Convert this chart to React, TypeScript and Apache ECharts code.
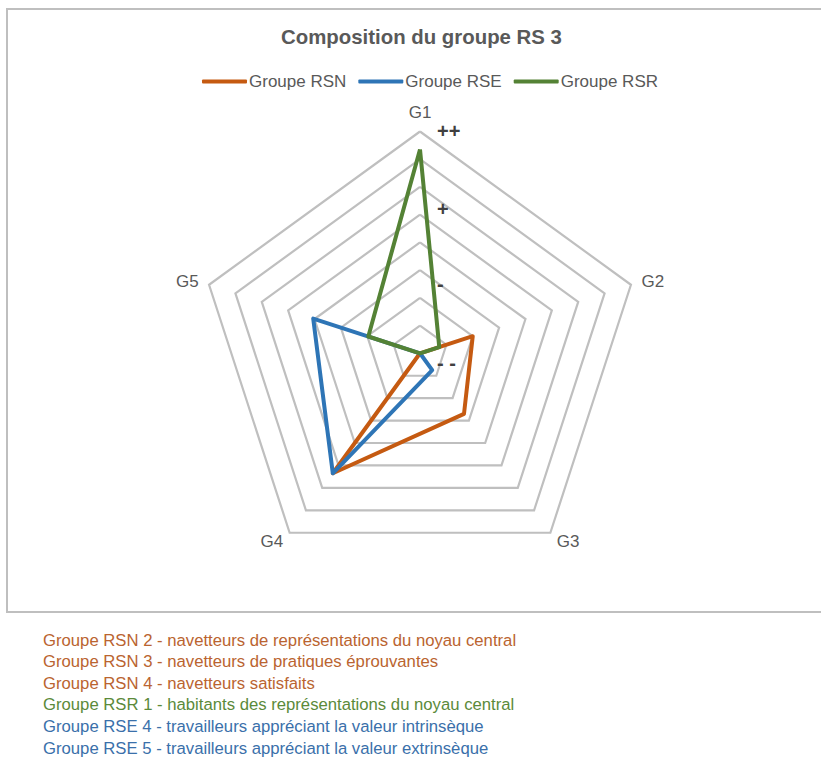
import React, { useEffect, useRef } from "react";
import * as echarts from "echarts";

const indicators = ["G1", "G2", "G3", "G4", "G5"];
const seriesNames = ["Groupe RSN", "Groupe RSE", "Groupe RSR"];
const rsn = [0, 2.0, 2.7, 5.35, 0];
const rse = [0, 0, 0.75, 5.35, 4.05];
const rsr = [7.35, 0.73, 0, 0, 1.96];
const seriesColors = ["#C55A11", "#2E75B6", "#548235"];
const scaleLabels = ["++", "+", "-", "- -"];
const scaleLabelY = [131, 208.5, 283.5, 363];
const notes = [
  "Groupe RSN 2 - navetteurs de représentations du noyau central",
  "Groupe RSN 3 - navetteurs de pratiques éprouvantes",
  "Groupe RSN 4 - navetteurs satisfaits",
  "Groupe RSR 1 - habitants des représentations du noyau central",
  "Groupe RSE 4 - travailleurs appréciant la valeur intrinsèque",
  "Groupe RSE 5 - travailleurs appréciant la valeur extrinsèque",
];
const noteColors = ["#BA6430", "#BA6430", "#BA6430", "#5B8A3A", "#3A70AA", "#3A70AA"];

// ECharts places radar indicators counter-clockwise; reorder to get clockwise G1..G5
const order = [0, 4, 3, 2, 1];
const reorder = (arr: any[]) => order.map((i) => arr[i]);

export default function App() {
  const ref = useRef<HTMLDivElement>(null);
  useEffect(() => {
    document.body.style.margin = "0";
    const chart = echarts.init(ref.current!, null, { renderer: "svg" });
    const font = "'Liberation Sans', Arial, sans-serif";
    const graphics: any[] = [
      {
        type: "rect",
        shape: { x: 7, y: 9, width: 840, height: 603 },
        style: { fill: "#ffffff", stroke: "#BFBFBF", lineWidth: 2 },
        z: -10,
        silent: true,
      },
    ];
    scaleLabels.forEach((t, i) => {
      graphics.push({
        type: "text",
        x: 437,
        y: scaleLabelY[i],
        style: {
          text: t,
          fill: "#404040",
          font: `bold 20px ${font}`,
          textVerticalAlign: "middle",
          verticalAlign: "middle",
        },
        z: 10,
      });
    });
    notes.forEach((t, i) => {
      graphics.push({
        type: "text",
        x: 43,
        y: 640 + i * 21.6,
        style: {
          text: t,
          fill: noteColors[i],
          font: `16.7px ${font}`,
          verticalAlign: "middle",
          textVerticalAlign: "middle",
        },
      });
    });
    const data = [rsn, rse, rsr];
    chart.setOption({
      animation: false,
      title: {
        text: "Composition du groupe RS 3",
        left: 276,
        top: 22,
        textStyle: { fontSize: 20.4, fontWeight: "bold", color: "#595959", fontFamily: font },
      },
      legend: {
        data: seriesNames,
        top: 68,
        left: 197,
        icon: "roundRect",
        itemWidth: 45,
        itemHeight: 4,
        itemGap: 12,
        textStyle: { fontSize: 17, color: "#595959", fontFamily: font, padding: [0, 0, 0, -3] },
      },
      graphic: graphics,
      radar: {
        center: [420, 353.3],
        radius: 221.8,
        shape: "polygon",
        splitNumber: 8,
        startAngle: 90,
        indicator: reorder(indicators).map((n) => ({ name: n, min: 0, max: 8 })),
        axisName: { color: "#595959", fontSize: 17, fontFamily: font },
        nameGap: 11,
        axisLine: { show: false },
        axisTick: { show: false },
        axisLabel: { show: false },
        splitArea: { show: false },
        splitLine: { lineStyle: { color: "#BFBFBF", width: 2.2 } },
      },
      series: [
        {
          type: "radar",
          symbol: "none",
          data: data.map((d, i) => ({
            name: seriesNames[i],
            value: reorder(d),
            lineStyle: { color: seriesColors[i], width: 4 },
            itemStyle: { color: seriesColors[i] },
          })),
        },
      ],
    });
    return () => chart.dispose();
  }, []);
  return <div ref={ref} style={{ width: 821, height: 757 }} />;
}
